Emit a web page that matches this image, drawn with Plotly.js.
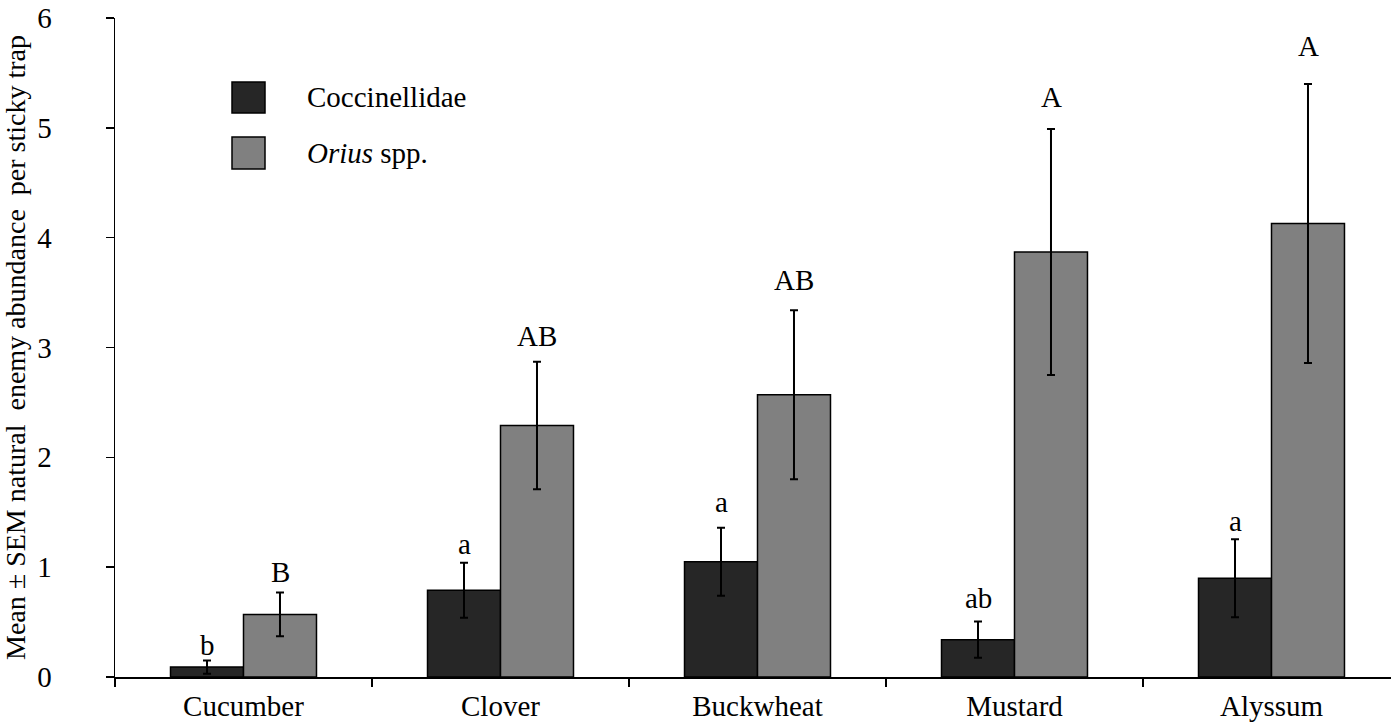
<!DOCTYPE html>
<html>
<head>
<meta charset="utf-8">
<script src="https://cdn.plot.ly/plotly-3.0.1.min.js"></script>
<style>html,body{margin:0;padding:0;background:#fff;}#chart{width:1391px;height:727px;}</style>
</head>
<body>
<div id="chart"></div>
<script>
// ---- data ----
var categories = ['Cucumber', 'Clover', 'Buckwheat', 'Mustard', 'Alyssum'];
var coccMean = [0.09, 0.79, 1.05, 0.34, 0.90];
var coccSem = [0.06, 0.25, 0.31, 0.165, 0.355];
var oriusMean = [0.57, 2.29, 2.57, 3.87, 4.13];
var oriusSem = [0.20, 0.58, 0.77, 1.12, 1.27];
var coccLetters = ['b', 'a', 'a', 'ab', 'a'];
var oriusLetters = ['B', 'AB', 'AB', 'A', 'A'];
var seriesNames = ['Coccinellidae', '<i>Orius</i> spp.'];

// ---- styling ----
var FONT = "'Liberation Serif', 'Times New Roman', serif";
var FS = 29;
var coccColor = '#262626';
var oriusColor = '#808080';
var coccGap = [5, 8, 15, 13, 7];     // px gap between cap and letter
var oriusGap = [9, 15, 19, 21, 27];
var barHalf = 36.5;                  // px half bar width (for letter offset)
var descent = 7;

var traces = [
  {
    type: 'bar', name: seriesNames[0], x: categories, y: coccMean,
    marker: {color: coccColor, line: {color: '#000', width: 1.5}},
    error_y: {type: 'data', array: coccSem, visible: true, color: '#000', thickness: 2, width: 4},
    showlegend: false
  },
  {
    type: 'bar', name: seriesNames[1], x: categories, y: oriusMean,
    marker: {color: oriusColor, line: {color: '#000', width: 1.5}},
    error_y: {type: 'data', array: oriusSem, visible: true, color: '#000', thickness: 2, width: 4},
    showlegend: false
  }
];

var annotations = [];
categories.forEach(function (c, i) {
  annotations.push({
    x: c, y: coccMean[i] + coccSem[i], xref: 'x', yref: 'y',
    text: coccLetters[i], showarrow: false, xanchor: 'center', yanchor: 'bottom',
    xshift: -barHalf, yshift: coccGap[i] - descent,
    font: {family: FONT, size: FS, color: '#000'}
  });
  annotations.push({
    x: c, y: oriusMean[i] + oriusSem[i], xref: 'x', yref: 'y',
    text: oriusLetters[i], showarrow: false, xanchor: 'center', yanchor: 'bottom',
    xshift: barHalf, yshift: oriusGap[i] - descent,
    font: {family: FONT, size: FS, color: '#000'}
  });
});

// custom legend (large swatches like the reference)
var W = 1391, H = 727;
function px(x) { return (x - 115) / (W - 115); }
function py(y) { return (677 - y) / (677 - 18); }
var shapes = [
  {type: 'rect', xref: 'paper', yref: 'paper', x0: px(232), x1: px(265), y0: py(113), y1: py(82),
   fillcolor: coccColor, line: {color: '#000', width: 1.5}},
  {type: 'rect', xref: 'paper', yref: 'paper', x0: px(232), x1: px(265), y0: py(169), y1: py(137),
   fillcolor: oriusColor, line: {color: '#000', width: 1.5}}
];
annotations.push({xref: 'paper', yref: 'paper', x: px(305), y: py(97), xanchor: 'left', yanchor: 'middle',
  text: seriesNames[0], showarrow: false, font: {family: FONT, size: FS, color: '#000'}});
annotations.push({xref: 'paper', yref: 'paper', x: px(305), y: py(153), xanchor: 'left', yanchor: 'middle',
  text: seriesNames[1], showarrow: false, font: {family: FONT, size: FS, color: '#000'}});

var layout = {
  width: W, height: H,
  margin: {l: 115, r: 0, t: 18, b: 50},
  paper_bgcolor: '#fff', plot_bgcolor: '#fff',
  barmode: 'group', bargap: 0.432, bargroupgap: 0,
  font: {family: FONT, size: FS, color: '#000'},
  showlegend: false,
  xaxis: {
    type: 'category', range: [-0.5, 4.465],
    showline: true, linecolor: '#000', linewidth: 1.5,
    ticks: 'outside', tickson: 'boundaries', ticklen: 8, tickwidth: 1.5, tickcolor: '#000',
    ticklabelstandoff: 3,
    showgrid: false, zeroline: false,
    tickfont: {family: FONT, size: FS, color: '#000'}
  },
  yaxis: {
    range: [0, 6], tickvals: [0, 1, 2, 3, 4, 5, 6],
    showline: true, linecolor: '#000', linewidth: 1.5,
    ticks: 'outside', ticklen: 8, tickwidth: 1.5, tickcolor: '#000',
    ticklabelstandoff: 48,
    showgrid: false, zeroline: false,
    tickfont: {family: FONT, size: FS, color: '#000'},
    title: {text: 'Mean \u00b1 SEM natural  enemy abundance  per sticky trap',
            font: {family: FONT, size: 28, color: '#000'}, standoff: 10}
  },
  annotations: annotations,
  shapes: shapes
};

Plotly.newPlot('chart', traces, layout, {staticPlot: true, displayModeBar: false});
</script>
</body>
</html>
